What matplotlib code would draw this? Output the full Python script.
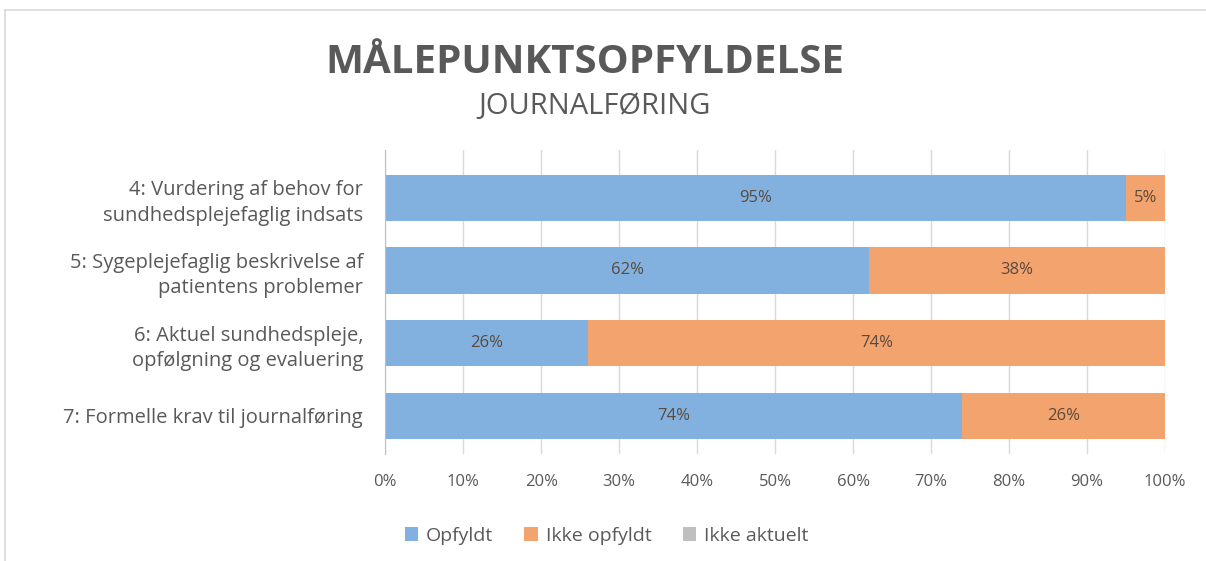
import matplotlib
matplotlib.use('Agg')
import matplotlib.pyplot as plt
from matplotlib.lines import Line2D
import numpy as np

# data
categories = ['4: Vurdering af behov for\nsundhedsplejefaglig indsats',
              '5: Sygeplejefaglig beskrivelse af\npatientens problemer',
              '6: Aktuel sundhedspleje,\nopfølgning og evaluering',
              '7: Formelle krav til journalføring']
opfyldt = [95, 62, 26, 74]
ikke_opfyldt = [5, 38, 74, 26]
ikke_aktuelt = [0, 0, 0, 0]
series_names = ['Opfyldt', 'Ikke opfyldt', 'Ikke aktuelt']
xticks = [0, 10, 20, 30, 40, 50, 60, 70, 80, 90, 100]

plt.rcParams['font.family'] = ['Open Sans', 'DejaVu Sans']
txt = '#595959'
colors = ['#82b1df', '#f3a36d', '#bfbfbf']

fig = plt.figure(figsize=(12.06, 5.61), dpi=100)
ax = fig.add_axes([0.3195, 0.19, 0.6465, 0.543])

# outer chart frame (top and left edges only are visible)
fx, fy = 5 / 1206, 1 - 10 / 561
fig.add_artist(Line2D([fx, 1], [fy, fy], transform=fig.transFigure, color='#d9d9d9', lw=1.2))
fig.add_artist(Line2D([fx, fx], [0, fy], transform=fig.transFigure, color='#d9d9d9', lw=1.2))

y = np.arange(len(categories))
left = np.zeros(len(categories))
for name, vals, c in zip(series_names, [opfyldt, ikke_opfyldt, ikke_aktuelt], colors):
    vals = np.array(vals, dtype=float)
    ax.barh(y, vals, left=left, height=0.64, color=c, label=name, zorder=2)
    for yi, l, v in zip(y, left, vals):
        if v > 0:
            ax.text(l + v / 2, yi, f'{v:.0f}%', ha='center', va='center',
                    fontsize=12, color='#5a4a40', zorder=3)
    left += vals

ax.set_xlim(0, 100)
ax.set_ylim(3.53, -0.66)
ax.set_xticks(xticks)
ax.set_xticklabels([f'{t}%' for t in xticks], fontsize=12, color=txt)
ax.set_yticks(y)
ax.set_yticklabels(categories, fontsize=14.5, color=txt, linespacing=1.35)
ax.tick_params(axis='x', length=0, pad=14)
ax.tick_params(axis='y', length=0, pad=16)
ax.grid(axis='x', color='#d9d9d9', linewidth=1, zorder=0)
for s in ['top', 'right', 'bottom']:
    ax.spines[s].set_visible(False)
ax.spines['left'].set_color('#bfbfbf')

fig.text(0.485, 0.888, 'MÅLEPUNKTSOPFYLDELSE', ha='center', va='center',
         fontsize=29, fontweight='bold', color=txt)
fig.text(0.493, 0.81, 'JOURNALFØRING', ha='center', va='center',
         fontsize=21, color=txt)

leg = fig.legend(loc='center', bbox_to_anchor=(0.503, 0.045), ncol=3, frameon=False,
                 fontsize=14, handlelength=0.7, handleheight=0.7, handletextpad=0.4,
                 columnspacing=1.6)
for t in leg.get_texts():
    t.set_color(txt)

fig.savefig('out.png', dpi=100)
